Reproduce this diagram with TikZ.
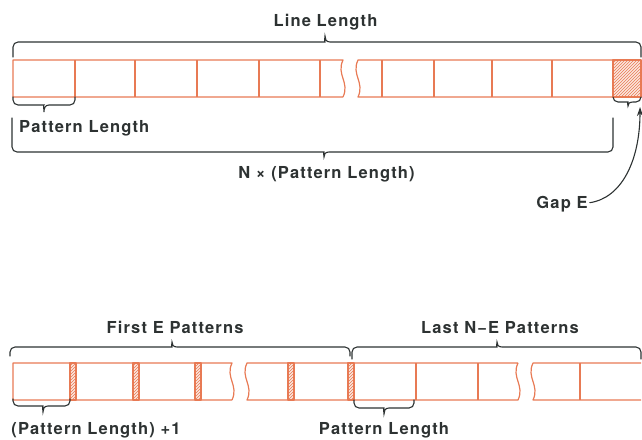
\documentclass[tikz,border=0pt]{standalone}
\usepackage{fontspec}
\setmainfont{TeX Gyre Heros}[LetterSpace=7]
\usetikzlibrary{arrows.meta,patterns}

\definecolor{cellorange}{RGB}{232,122,84}
\definecolor{inkgray}{RGB}{45,50,50}

\tikzset{
  cell/.style={draw=cellorange, line width=1.2pt, line join=round},
  hatch/.style={cell, preaction={fill=cellorange!18}, pattern=north east lines, pattern color=cellorange},
  brace/.style={draw=inkgray, line width=1.1pt, line cap=round},
  tag/.style={text=inkgray, font=\bfseries\fontsize{16.5}{18}\selectfont, inner sep=0pt, anchor=base},
}

% brace: left x, right x, tip x, base y, hook, tip offset
\newcommand{\hbrace}[6]{%
  \draw[brace, rounded corners=5pt] (#1,{#4+(#5)}) -- (#1,#4) -- ({#3-5},#4)
    [sharp corners] .. controls ({#3-1},#4) and (#3,{#4+0.5*(#6)}) .. (#3,{#4+(#6)})
    .. controls (#3,{#4+0.5*(#6)}) and ({#3+1},#4) .. ({#3+5},#4)
    [rounded corners=5pt] -- (#2,#4) -- (#2,{#4+(#5)});}

\begin{document}
\begin{tikzpicture}[x=1pt, y=-1pt]
  \useasboundingbox (0,0) rectangle (642,439);

  % upper strip
  \draw[cell] (343,97) -- (13,97) -- (13,60) -- (343,60)
    .. controls (336,75) and (350,82) .. (343,97);
  \foreach \x in {75,135,197,259,320}
    \draw[cell] (\x,60) -- (\x,97);
  \draw[cell] (641,60) -- (358,60)
    .. controls (351,75) and (365,82) .. (358,97) -- (641,97);
  \foreach \x in {382,434,492,552}
    \draw[cell] (\x,60) -- (\x,97);
  \draw[hatch] (613,60) rectangle (641,97);

  \hbrace{13}{641}{325}{42}{15}{-6}
  \hbrace{13}{75}{44}{105}{-8}{7}
  \hbrace{12}{613}{324}{152}{-34}{5}
  \hbrace{613}{641}{628}{102}{-5}{4}

  \node[tag] (line) at (325.5,27) {Line Length};
  \node[tag, anchor=base west] (pat) at (19,132) {Pattern Length};
  \node[tag] (npat) at (326.5,178) {N × (Pattern Length)};
  \node[tag] (gapE) at (562,208) {Gap E};
  \coordinate (gaptip) at (640,107);
  \draw[brace, -{Stealth[length=9pt,width=6pt]}] (gapE.east) ++(2,-1)
    .. controls (622,198) and (640,160) .. (gaptip);

  % lower strip
  \draw[cell] (232,400) -- (13,400) -- (13,363) -- (232,363)
    .. controls (225,378) and (239,385) .. (232,400);
  \draw[cell] (518,363) -- (247,363)
    .. controls (240,378) and (254,385) .. (247,400) -- (518,400)
    .. controls (525,385) and (511,378) .. (518,363);
  \draw[cell] (641,363) -- (533,363)
    .. controls (526,378) and (540,385) .. (533,400) -- (641,400);
  \foreach \x in {416,478,580}
    \draw[cell] (\x,363) -- (\x,400);
  \foreach \x in {70,133,195,288,348}
    \draw[hatch] (\x,363) rectangle ({\x+6},400);

  \hbrace{10}{350}{172}{347}{9}{-5}
  \hbrace{352}{641}{497}{347}{12}{-5}
  \hbrace{13}{70}{43}{406}{-7}{6}
  \hbrace{354}{414}{384}{408}{-8}{6}

  \node[tag] (first) at (175,333) {First E Patterns};
  \node[tag] (last) at (500,333) {Last N−E Patterns};
  \node[tag] (patone) at (96,434) {(Pattern Length) +1};
  \node[tag] (pattwo) at (384,434) {Pattern Length};
\end{tikzpicture}
\end{document}
